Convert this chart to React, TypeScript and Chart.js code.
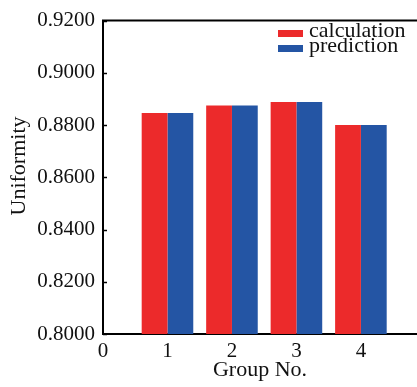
import React, { useEffect, useRef } from "react";
import { Chart, registerables } from "chart.js";

Chart.register(...registerables);

const groups = [1, 2, 3, 4];
const calculation = [0.8846, 0.8875, 0.8888, 0.88];
const prediction = [0.8846, 0.8875, 0.8888, 0.88];
const xTicks = [0, 1, 2, 3, 4];
const seriesNames = ["calculation", "prediction"];
const yTitle = "Uniformity";
const xTitle = "Group No.";

const RED = "#EC2A2B";
const BLUE = "#2455A4";
const FONT = "'Liberation Serif', 'Times New Roman', serif";

const decorPlugin = {
  id: "decor",
  afterDraw(chart: any) {
    const { ctx, chartArea } = chart;
    const y = chart.scales.y;
    ctx.save();
    // top border
    ctx.strokeStyle = "#000";
    ctx.lineWidth = 2;
    ctx.beginPath();
    ctx.moveTo(chartArea.left - 1, chartArea.top);
    ctx.lineTo(chartArea.right, chartArea.top);
    ctx.stroke();
    // inward y tick marks
    ctx.lineWidth = 1.5;
    y.ticks.forEach((t: any) => {
      const py = Math.round(y.getPixelForValue(t.value)) + 0.5;
      ctx.beginPath();
      ctx.moveTo(chartArea.left, py);
      ctx.lineTo(chartArea.left + 4, py);
      ctx.stroke();
    });
    // y title
    ctx.fillStyle = "#111";
    ctx.font = `22px ${FONT}`;
    ctx.textAlign = "center";
    ctx.textBaseline = "alphabetic";
    ctx.translate(25, 166);
    ctx.rotate(-Math.PI / 2);
    ctx.fillText(yTitle, 0, 0);
    ctx.restore();
    // legend
    ctx.save();
    ctx.font = `22px ${FONT}`;
    ctx.textAlign = "left";
    ctx.textBaseline = "alphabetic";
    chart.data.datasets.forEach((ds: any, i: number) => {
      const by = 37 + i * 15;
      ctx.fillStyle = ds.backgroundColor;
      ctx.fillRect(278, by - 7, 25, 7);
      ctx.fillStyle = "#111";
      ctx.fillText(ds.label, 309, by);
    });
    ctx.restore();
  },
};

export default function App() {
  const ref = useRef<HTMLCanvasElement>(null);
  useEffect(() => {
    if (!ref.current) return;
    const chart = new Chart(ref.current, {
      type: "bar",
      data: {
        datasets: [
          {
            label: seriesNames[0],
            data: groups.map((g, i) => ({ x: g, y: calculation[i] })),
            backgroundColor: RED,
            borderWidth: 0,
          },
          {
            label: seriesNames[1],
            data: groups.map((g, i) => ({ x: g, y: prediction[i] })),
            backgroundColor: BLUE,
            borderWidth: 0,
          },
        ],
      },
      options: {
        animation: false,
        responsive: false,
        maintainAspectRatio: false,
        datasets: { bar: { categoryPercentage: 0.8, barPercentage: 1.0 } },
        layout: { padding: { top: 19, right: 0, left: 0, bottom: 0 } },
        plugins: { legend: { display: false }, tooltip: { enabled: false } },
        scales: {
          x: {
            type: "linear",
            min: 0,
            max: 4.87,
            offset: false,
            grid: { display: false, drawTicks: false },
            border: { display: true, color: "#000", width: 2 },
            afterBuildTicks: (s: any) => {
              s.ticks = xTicks.map((v) => ({ value: v }));
            },
            afterFit: (s: any) => {
              s.height = 53;
            },
            ticks: {
              color: "#111",
              padding: 5,
              font: { family: FONT, size: 21 },
              callback: (v: any) => String(v),
            },
            title: {
              display: true,
              text: xTitle,
              color: "#111",
              font: { family: FONT, size: 22 },
              padding: { top: 0, bottom: 4 },
            },
          },
          y: {
            min: 0.8,
            max: 0.92,
            grid: { display: false, drawTicks: false },
            border: { display: true, color: "#000", width: 2 },
            afterFit: (s: any) => {
              s.width = 103;
            },
            ticks: {
              stepSize: 0.02,
              color: "#111",
              padding: 8,
              font: { family: FONT, size: 21 },
              callback: (v: any) => Number(v).toFixed(4),
            },
          },
        },
      },
      plugins: [decorPlugin],
    });
    return () => chart.destroy();
  }, []);
  return (
    <div style={{ position: "fixed", left: 0, top: 0, width: 417, height: 387, background: "#fff" }}>
      <canvas ref={ref} width={417} height={387} style={{ width: 417, height: 387 }} />
    </div>
  );
}
